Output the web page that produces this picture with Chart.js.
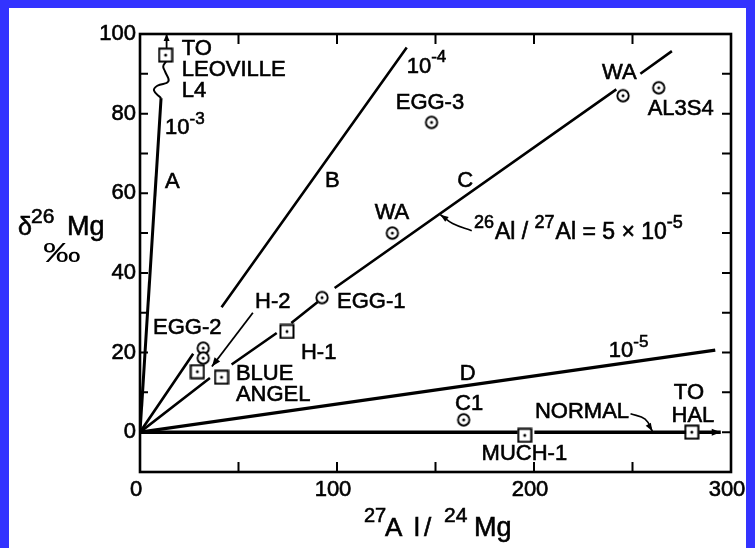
<!DOCTYPE html>
<html><head><meta charset="utf-8">
<script src="https://cdn.jsdelivr.net/npm/chart.js@4"></script>
<style>
html,body{margin:0;padding:0;background:#fff;}
#wrap{position:relative;width:755px;height:548px;overflow:hidden;background:#fff;}
.bb{position:absolute;background:rgb(51,51,255);}
</style></head><body>
<div id="wrap"><canvas id="c"></canvas>
<div class="bb" style="left:0;top:0;width:755px;height:8px"></div>
<div class="bb" style="left:0;top:0;width:9px;height:548px"></div>
<div class="bb" style="left:746px;top:0;width:9px;height:548px"></div>
</div>
<script>
// ---------- data ----------
const xLabelled = [0, 100, 200, 300];
const yLabelled = [0, 20, 40, 60, 80, 100];

const circleNames = ['EGG-3', 'WA', 'AL3S4', 'WA', 'EGG-1', 'EGG-2', 'EGG-2', 'C1'];
const circleX = [148, 245.2, 263.3, 128.1, 92.4, 32.1, 32.1, 164.3];
const circleY = [77.8, 84.5, 86.5, 50.0, 33.8, 21.1, 18.6, 3.1];

const boxNames = ['LEOVILLE L4', 'H-2', 'BLUE ANGEL', 'H-1', 'MUCH-1', 'HAL'];
const boxX = [13, 29.1, 41.4, 74.6, 195.3, 280.1];
const boxY = [94.7, 15.2, 13.8, 25.3, -0.8, 0];

// isochron lines (null = gap left for labels)
const lineAX = [0, 10.7];
const lineAY = [0, 83.9];
const squiggleX = [10.7, 7.1, 8.8, 14.4, 12.7, 11.8, 13.2];
const squiggleY = [83.9, 85.8, 87.0, 88.1, 90.6, 91.9, 93.1];
const lineBX = [0, 27, null, 41.4, 135.4];
const lineBY = [0, 19.7, null, 31.4, 96.6];
const lineCX = [0, 35.5, null, 46.5, 69.4, null, 76.8, 90.2, null, 98.8, 241.8, null, 254, 270];
const lineCY = [0, 13.6, null, 17, 24.9, null, 27.4, 32.7, null, 36.2, 86.1, null, 90, 95.7];
const lineDX = [0, 292];
const lineDY = [0, 20.6];
const normalX = [0, 191.7, null, 200.2, 277.2, null, 283.8, 294.8];
const normalY = [0, 0, null, 0, 0, null, 0, 0];
const h2PointerX = [57.3, 36.5];
const h2PointerY = [30.0, 16.5];
const normalPointerX = [249, 256.4, 260.1];
const normalPointerY = [4.6, 3.3, 0.25];
const ratioPointerX = [168.4, 158.7, 152.5];
const ratioPointerY = [50.6, 52.4, 54.6];
const leovilleArrowX = [13.5, 13.5];
const leovilleArrowY = [96.5, 100];

// text labels
const labelText = ['TO', 'LEOVILLE', 'L4', 'A', 'B', 'EGG-3', 'C', 'WA', 'AL3S4', 'WA', 'EGG-1', 'H-2', 'EGG-2', 'H-1', 'BLUE', 'ANGEL', 'D', 'C1', 'NORMAL', 'TO', 'HAL', 'MUCH-1'];
const labelX = [21.2, 21.2, 21.2, 12.7, 93.9, 129.8, 161.1, 234.5, 257.7, 119.1, 100, 58.4, 6.6, 81.7, 48.7, 48.7, 162.3, 159.9, 200.5, 271, 269.8, 173.4];
const labelY = [96.3, 90.9, 85.6, 62.9, 63.2, 82.6, 63.2, 90.1, 81.3, 55, 32.7, 32.7, 26.1, 20, 14.7, 9.4, 14.7, 7, 5.1, 9.9, 4.2, -5.4];
const ratioBase = ['10', '10', '10'];
const ratioExp = ['-3', '-4', '-5'];
const ratioX = [12.7, 135.4, 238];
const ratioY = [76.3, 91.8, 20.4];
const isoLabelParts = [['26', 1], ['Al / ', 0], ['27', 1], ['Al = 5 \u00d7 10', 0], ['-5', 1]];
const isoLabelX = 169.5, isoLabelY = 50.2;

// ---------- helpers ----------
const FONT = '"Liberation Sans", Arial, sans-serif';
const STROKE = 0.6;
function pts(xs, ys) { return xs.map((x, i) => ({ x: x === null ? null : x, y: ys[i] })); }
function makeCircle() {
  const c = document.createElement('canvas'); c.width = c.height = 16;
  const g = c.getContext('2d');
  g.fillStyle = '#fff'; g.beginPath(); g.arc(8, 8, 5.7, 0, 2 * Math.PI); g.fill();
  g.lineWidth = 1.9; g.strokeStyle = '#000'; g.stroke();
  g.fillStyle = '#000'; g.beginPath(); g.arc(8, 8, 1.5, 0, 2 * Math.PI); g.fill();
  return c;
}
function makeBox() {
  const c = document.createElement('canvas'); c.width = c.height = 16;
  const g = c.getContext('2d');
  g.fillStyle = '#fff'; g.fillRect(1.5, 1.5, 13, 13);
  g.lineWidth = 2; g.strokeStyle = '#000'; g.strokeRect(1.5, 1.5, 13, 13);
  g.fillStyle = '#000'; g.beginPath(); g.arc(8, 8, 1.5, 0, 2 * Math.PI); g.fill();
  return c;
}
function lineDs(xs, ys, w, tension) {
  return { data: pts(xs, ys), showLine: true, borderColor: '#000', borderWidth: w, pointRadius: 0,
    spanGaps: false, tension: tension || 0, borderCapStyle: 'butt' };
}
function arrowHead(ctx, x0, y0, x1, y1, len, hw) {
  const a = Math.atan2(y1 - y0, x1 - x0);
  ctx.save(); ctx.translate(x1, y1); ctx.rotate(a);
  ctx.beginPath(); ctx.moveTo(0, 0); ctx.lineTo(-len, -hw); ctx.lineTo(-len, hw); ctx.closePath();
  ctx.fillStyle = '#000'; ctx.fill(); ctx.restore();
}
function txt(ctx, t, x, y) {
  ctx.fillText(t, x, y);
  ctx.lineWidth = STROKE; ctx.strokeStyle = '#000'; ctx.strokeText(t, x, y);
}
function drawParts(ctx, x, y, parts, main, sup, rise) {
  ctx.textBaseline = 'middle'; ctx.textAlign = 'left';
  for (const [t, s] of parts) {
    ctx.font = (s ? sup : main) + 'px ' + FONT;
    txt(ctx, t, x, s ? y - rise : y);
    x += ctx.measureText(t).width + (s ? 1 : 0);
  }
}
// pieces placed at given pixel x (layout only)
function drawPlaced(ctx, y, pieces) {
  ctx.textBaseline = 'middle'; ctx.textAlign = 'left';
  for (const [t, px, size, rise] of pieces) {
    ctx.font = size + 'px ' + FONT;
    txt(ctx, t, px, y - rise);
  }
}

const deco = {
  id: 'deco',
  beforeDatasetsDraw(chart) {
    const { ctx, chartArea: a, scales: { x: xs, y: ys } } = chart;
    ctx.save();
    ctx.strokeStyle = '#000'; ctx.lineWidth = 2.6;
    ctx.strokeRect(a.left, a.top, a.right - a.left, a.bottom - a.top);
    ctx.lineWidth = 2;
    ctx.beginPath();
    for (let v = -10; v <= 100; v += 10) {
      const p = ys.getPixelForValue(v);
      ctx.moveTo(a.left, p); ctx.lineTo(a.left + 8, p);
      ctx.moveTo(a.right, p); ctx.lineTo(a.right - 9, p);
    }
    for (let v = 50; v < 300; v += 50) {
      const p = xs.getPixelForValue(v);
      ctx.moveTo(p, a.top); ctx.lineTo(p, a.top + 10);
      ctx.moveTo(p, a.bottom); ctx.lineTo(p, a.bottom - 10);
    }
    ctx.stroke();
    ctx.restore();
  },
  afterDatasetsDraw(chart) {
    const { ctx, scales: { x: xs, y: ys } } = chart;
    const X = v => xs.getPixelForValue(v), Y = v => ys.getPixelForValue(v);
    ctx.save();
    ctx.fillStyle = '#000';
    ctx.font = '22px ' + FONT; ctx.textBaseline = 'middle'; ctx.textAlign = 'left';
    labelText.forEach((t, i) => { ctx.font = '22px ' + FONT; txt(ctx, t, X(labelX[i]), Y(labelY[i])); });
    ratioBase.forEach((b, i) => drawParts(ctx, X(ratioX[i]), Y(ratioY[i]), [[b, 0], [ratioExp[i], 1]], 22, 17, 9));
    drawParts(ctx, X(isoLabelX), Y(isoLabelY), isoLabelParts, 23, 18, 9);
    // arrowheads
    const n = normalX.length;
    arrowHead(ctx, X(normalX[n - 2]), Y(normalY[n - 2]), X(normalX[n - 1]), Y(normalY[n - 1]), 9, 3.5);
    arrowHead(ctx, X(h2PointerX[0]), Y(h2PointerY[0]), X(h2PointerX[1]), Y(h2PointerY[1]), 9, 3.5);
    arrowHead(ctx, X(normalPointerX[1]), Y(normalPointerY[1]), X(normalPointerX[2]), Y(normalPointerY[2]), 8, 3);
    arrowHead(ctx, X(ratioPointerX[1]), Y(ratioPointerY[1]), X(ratioPointerX[2]), Y(ratioPointerY[2]), 8, 3);
    arrowHead(ctx, X(leovilleArrowX[0]), Y(leovilleArrowY[0]), X(leovilleArrowX[1]), Y(leovilleArrowY[1]), 7, 3);
    // axis titles
    drawPlaced(ctx, 228, [['\u03b4', 18, 25, 0], ['26', 31, 21, 11], ['Mg', 67, 27, 0]]);
    ctx.save();
    ctx.translate(43, 254); ctx.scale(1.35, 1);
    ctx.font = '28px ' + FONT; ctx.textBaseline = 'middle'; ctx.fillText('\u2030', 0, 0);
    ctx.restore();
    drawPlaced(ctx, 529, [['27', 364, 20, 13], ['A', 385, 26, 0], ['l', 414, 26, 0], ['/', 424, 26, 0], ['24', 444, 21, 13], ['Mg', 474, 27, 0]]);
    ctx.restore();
  }
};

Chart.defaults.font.family = FONT;
Chart.defaults.color = '#000';
const circleImg = makeCircle(), boxImg = makeBox();

new Chart(document.getElementById('c'), {
  type: 'scatter',
  data: {
    datasets: [
      lineDs(lineAX, lineAY, 3),
      lineDs(squiggleX, squiggleY, 2, 0.45),
      lineDs(lineBX, lineBY, 2.6),
      lineDs(lineCX, lineCY, 2.6),
      lineDs(lineDX, lineDY, 3.3),
      lineDs(normalX, normalY, 3.6),
      lineDs(h2PointerX, h2PointerY, 1.8),
      lineDs(normalPointerX, normalPointerY, 1.6, 0.4),
      lineDs(ratioPointerX, ratioPointerY, 1.6, 0.4),
      lineDs(leovilleArrowX, leovilleArrowY, 1.8),
      { label: 'circles', data: pts(circleX, circleY), pointStyle: circleImg, pointRadius: 6, showLine: false },
      { label: 'boxes', data: pts(boxX, boxY), pointStyle: boxImg, pointRadius: 7, showLine: false }
    ]
  },
  options: {
    responsive: true, maintainAspectRatio: false, animation: false,
    layout: { padding: { top: 34, right: 24, left: 0, bottom: 0 } },
    plugins: { legend: { display: false }, tooltip: { enabled: false } },
    scales: {
      x: { type: 'linear', min: 0, max: 300,
        ticks: { stepSize: 50, autoSkip: false, maxRotation: 0, padding: 5, labelOffset: -4,
          font: { size: 22 }, textStrokeColor: '#000', textStrokeWidth: STROKE,
          callback: v => xLabelled.includes(v) ? String(v) : '' },
        grid: { display: false, drawTicks: false }, border: { display: false },
        afterFit(s) { s.height = 76; } },
      y: { type: 'linear', min: -10, max: 100,
        ticks: { stepSize: 10, autoSkip: false, padding: 4, font: { size: 22 },
          textStrokeColor: '#000', textStrokeWidth: STROKE,
          callback: v => yLabelled.includes(v) ? String(v) : '' },
        grid: { display: false, drawTicks: false }, border: { display: false },
        afterFit(s) { s.width = 140; } }
    }
  },
  plugins: [deco]
});
</script>
</body></html>
